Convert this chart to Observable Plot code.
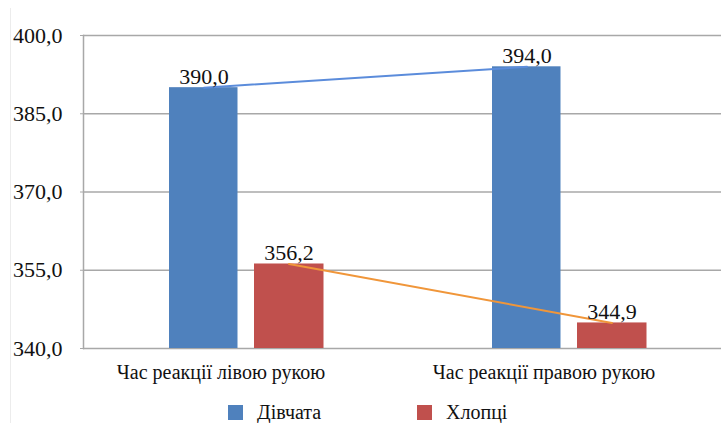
<!DOCTYPE html>
<html>
<head>
<meta charset="utf-8">
<script src="https://cdn.jsdelivr.net/npm/d3@7"></script>
<script src="https://cdn.jsdelivr.net/npm/@observablehq/plot@0.6"></script>
<style>
  body { margin: 0; background: #fff; font-family: 'Times New Roman', 'Liberation Serif', serif; }
  .leg { position: absolute; top: 401px; font-size: 20px; color: #111; display: flex; align-items: center; }
  .sw { width: 15px; height: 15px; margin-right: 14px; }
</style>
</head>
<body>
<div id="wrap" style="position:relative;width:721px;height:423px">
  <div style="position:absolute;left:10px;top:8px;width:1px;height:415px;background:#ececec"></div>
  <div id="chart" style="position:absolute;left:0;top:0"></div>
  <div id="legend"></div>
</div>
<script>
const categories = ["Час реакції лівою рукою", "Час реакції правою рукою"];
const seriesNames = ["Дівчата", "Хлопці"];
const girls = [390.0, 394.0];
const boys = [356.2, 344.9];
const yTicks = [340, 355, 370, 385, 400];

const barColors = ["#4f81bd", "#c0504d"];
const lineColors = ["#5b8cdb", "#f0963a"];
const FONT = "'Times New Roman', 'Liberation Serif', serif";

const rows = categories.map((c, i) => ({cat: c, girls: girls[i], boys: boys[i]}));
const fmt = v => d3.format(".1f")(v).replace(".", ",");
const base = yTicks[0];

const plot = Plot.plot({
  width: 721,
  height: 390,
  marginLeft: 83,
  marginRight: 0,
  marginTop: 35,
  marginBottom: 42,
  style: "font-family: 'Times New Roman', 'Liberation Serif', serif; font-size: 20px; color: #111;",
  x: {domain: categories, range: [83, 730], padding: 0, label: null},
  y: {domain: [340, 400], range: [348, 35], label: null},
  marks: [
    Plot.ruleY(yTicks, {stroke: "#a8a8a8", strokeWidth: 1.5}),
    Plot.barY(rows, {x: "cat", y1: base, y2: "girls", fill: barColors[0], insetLeft: 85, insetRight: 169.5}),
    Plot.barY(rows, {x: "cat", y1: base, y2: "boys", fill: barColors[1], insetLeft: 170, insetRight: 83.5}),
    Plot.line(rows, {x: "cat", y: "girls", dx: -42, stroke: lineColors[0], strokeWidth: 2}),
    Plot.line(rows, {x: "cat", y: "boys", dx: 43, stroke: lineColors[1], strokeWidth: 2}),
    Plot.text(rows, {x: "cat", y: "girls", dx: -42, dy: -4, text: d => fmt(d.girls), lineAnchor: "bottom", fontSize: 22, fill: "#111"}),
    Plot.text(rows, {x: "cat", y: "boys", dx: 43, dy: -4, text: d => fmt(d.boys), lineAnchor: "bottom", fontSize: 22, fill: "#111"}),
    Plot.axisY({ticks: yTicks, tickFormat: fmt, tickSize: 3, tickPadding: 18, fontSize: 22, stroke: "#a8a8a8"}),
    Plot.axisX({tickSize: 0, tickPadding: 16, dx: -25, fontSize: 20}),
    Plot.frame({anchor: "left", stroke: "#a8a8a8", strokeWidth: 1.5})
  ]
});
plot.setAttribute("font-family", FONT);
d3.select(plot).selectAll("text, g").style("font-family", FONT);
document.getElementById("chart").appendChild(plot);

const legendPos = [228, 417];
const legend = document.getElementById("legend");
seriesNames.forEach((name, i) => {
  const d = document.createElement("div");
  d.className = "leg";
  d.style.left = legendPos[i] + "px";
  d.style.fontFamily = FONT;
  const sw = document.createElement("div");
  sw.className = "sw";
  sw.style.background = barColors[i];
  d.appendChild(sw);
  const t = document.createElement("span");
  t.textContent = name;
  d.appendChild(t);
  legend.appendChild(d);
});
</script>
</body>
</html>
